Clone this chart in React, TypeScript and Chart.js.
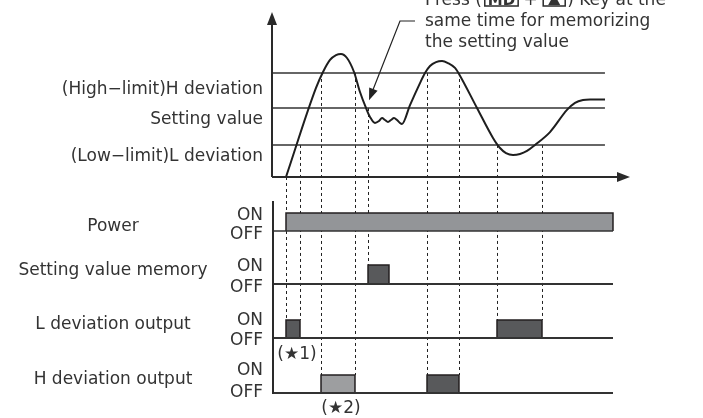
import React, { useEffect, useRef } from 'react';
import { Chart, registerables } from 'chart.js';

Chart.register(...registerables);

// ---------------- data ----------------
// time in arbitrary units (0 = origin, 100 = arrow tip of time axis)
const thresholdLabels = ['(High−limit)H deviation', 'Setting value', '(Low−limit)L deviation'];
const thresholdValues = [74.3, 49.3, 22.9];
const thresholdEnd = 93;

const curveTime = [
  3.91, 12.29, 14.25, 16.2, 17.88, 19.27, 20.95, 22.91, 24.58, 26.26, 27.37, 28.77,
  29.89, 30.73, 31.56, 32.4, 33.24, 34.08, 34.92, 35.75, 36.31, 38.55, 41.34, 42.74,
  44.13, 45.81, 47.49, 49.16, 51.12, 52.23, 57.26, 61.73, 63.69, 65.36, 67.32, 69.27,
  71.23, 73.46, 77.65, 82.4, 84.64, 86.87, 88.83, 93.02,
];
const curveValue = [
  0, 63.6, 75, 83.6, 87.1, 87.9, 85, 75, 60.7, 49.3, 42.9, 38.6,
  40, 42.1, 40.7, 39.3, 40.7, 42.1, 40.7, 38.6, 37.9, 51.4, 67.1, 74.3,
  79.3, 82.1, 82.9, 81.4, 77.9, 73.6, 49.3, 27.9, 20.7, 17.1, 15.7, 16.4,
  18.6, 22.9, 32.1, 47.9, 52.9, 55, 55.4, 55.4,
];

const rowLabels = ['Power', 'Setting value memory', 'L deviation output', 'H deviation output'];
const powerPulses = [[3.91, 95.25]];
const memoryPulses = [[26.82, 32.68]];
const lDeviationPulses = [[3.91, 7.82], [62.85, 75.42]];
const hDeviationPulses = [[13.69, 23.18], [43.3, 52.23]];
const signalEnd = 95.25;

const markerTimes = [3.91, 7.82, 13.69, 23.18, 26.82, 43.3, 52.23, 62.85, 75.42];
const markerLevels = [0, 22.9, 74.3, 74.3, 49.3, 74.3, 74.3, 22.9, 22.9];
const markerRows = [2, 2, 3, 3, 1, 3, 3, 2, 2];

const noteLines = ['same time for memorizing', 'the setting value'];

// ---------------- layout / style ----------------
const W = 703;
const H = 418;
const X_ORIGIN_PX = 272;
const X_UNIT_PX = 3.58;
const TEMP_ZERO_PX = 177;
const TEMP_UNIT_PX = 1.4;
const ROW_BASE_PX = [231, 284, 338, 393];
const ROW_HEIGHT_PX = [18, 19, 18, 18];
const ROW_FILLS = [['#939598'], ['#58595b'], ['#58595b', '#58595b'], ['#9d9ea0', '#58595b']];
const THRESH_LABEL_BASE = [94, 124, 161];
const ROW_LABEL_BASE = [231, 275, 329, 384];
const ON_BASE = [220, 271, 325, 375];
const OFF_BASE = [239, 292, 345, 397];
const FONT = '17px "DejaVu Sans"';
const TEXT = '#333333';
const LINE = '#2a2a2a';

const rows = [powerPulses, memoryPulses, lDeviationPulses, hDeviationPulses];
const rowAxis = (r: number) => 'ySig' + r;

function arrowHead(ctx: CanvasRenderingContext2D, x0: number, y0: number, x1: number, y1: number, len: number, half: number) {
  const dx = x1 - x0, dy = y1 - y0;
  const d = Math.hypot(dx, dy);
  const ux = dx / d, uy = dy / d;
  const bx = x1 - ux * len, by = y1 - uy * len;
  ctx.beginPath();
  ctx.moveTo(x1, y1);
  ctx.lineTo(bx - uy * half, by + ux * half);
  ctx.lineTo(bx + uy * half, by - ux * half);
  ctx.closePath();
  ctx.fill();
}

const overlay = {
  id: 'overlay',
  beforeDatasetsDraw(chart: any) {
    const ctx = chart.ctx as CanvasRenderingContext2D;
    const xs = chart.scales.x;
    const ys = chart.scales.y;
    ctx.save();
    ctx.strokeStyle = '#222';
    ctx.lineWidth = 1;
    ctx.setLineDash([3, 3]);
    markerTimes.forEach((t, i) => {
      const x = Math.round(xs.getPixelForValue(t)) + 0.5;
      const y1 = ys.getPixelForValue(markerLevels[i]);
      const y2 = chart.scales[rowAxis(markerRows[i])].getPixelForValue(1);
      ctx.beginPath();
      ctx.moveTo(x, y1);
      ctx.lineTo(x, y2);
      ctx.stroke();
    });
    ctx.restore();
  },
  afterDatasetsDraw(chart: any) {
    const ctx = chart.ctx as CanvasRenderingContext2D;
    const xs = chart.scales.x;
    const ys = chart.scales.y;
    ctx.save();
    // top axes
    const ox = xs.getPixelForValue(0);
    const oy = ys.getPixelForValue(0);
    const xTip = xs.getPixelForValue(100);
    ctx.strokeStyle = LINE;
    ctx.fillStyle = LINE;
    ctx.lineWidth = 2;
    ctx.beginPath();
    ctx.moveTo(ox, oy);
    ctx.lineTo(ox, 20);
    ctx.moveTo(ox, oy);
    ctx.lineTo(xTip - 8, oy);
    ctx.stroke();
    arrowHead(ctx, ox, oy, ox, 12, 13, 5);
    arrowHead(ctx, ox, oy, xTip, oy, 13, 5);
    // bottom axis
    ctx.beginPath();
    ctx.moveTo(ox + 1, 201);
    ctx.lineTo(ox + 1, chart.scales[rowAxis(3)].getPixelForValue(0) + 1);
    ctx.stroke();

    // texts
    ctx.font = FONT;
    ctx.fillStyle = TEXT;
    ctx.textBaseline = 'alphabetic';
    ctx.textAlign = 'right';
    thresholdLabels.forEach((s, i) => ctx.fillText(s, 263, THRESH_LABEL_BASE[i]));
    rowLabels.forEach((_, i) => {
      ctx.fillText('ON', 263, ON_BASE[i]);
      ctx.fillText('OFF', 263, OFF_BASE[i]);
    });
    ctx.textAlign = 'center';
    rowLabels.forEach((s, i) => ctx.fillText(s, 113, ROW_LABEL_BASE[i]));
    const l0 = lDeviationPulses[0];
    const h0 = hDeviationPulses[0];
    ctx.fillText('(★1)', (xs.getPixelForValue(l0[0]) + xs.getPixelForValue(l0[1])) / 2 + 4, 359);
    ctx.fillText('(★2)', (xs.getPixelForValue(h0[0]) + xs.getPixelForValue(h0[1])) / 2 + 3, 413);

    // annotation
    ctx.textAlign = 'left';
    let x = 425;
    const y0 = 5;
    ctx.fillText('Press (', x, y0);
    x += ctx.measureText('Press (').width + 3;
    ctx.font = 'bold 15px "DejaVu Sans"';
    const mdW = ctx.measureText('MD').width;
    ctx.fillText('MD', x + 3, y0);
    ctx.lineWidth = 1.5;
    ctx.strokeStyle = LINE;
    ctx.strokeRect(x, -14, mdW + 6, y0 + 15);
    x += mdW + 6;
    ctx.font = FONT;
    ctx.fillText(' + ', x, y0);
    x += ctx.measureText(' + ').width;
    ctx.strokeRect(x, -14, 22, y0 + 15);
    ctx.beginPath();
    ctx.moveTo(x + 11, -6);
    ctx.lineTo(x + 17, y0 + 0);
    ctx.lineTo(x + 5, y0 + 0);
    ctx.closePath();
    ctx.fill();
    x += 24;
    ctx.fillText(') Key at the', x, y0);
    ctx.fillText(noteLines[0], 425, 26);
    ctx.fillText(noteLines[1], 425, 47);

    // leader arrow
    const tipX = xs.getPixelForValue(markerTimes[4]) + 1;
    const tipY = ys.getPixelForValue(thresholdValues[1] + 5.5);
    ctx.strokeStyle = '#222';
    ctx.fillStyle = '#222';
    ctx.lineWidth = 1.2;
    ctx.beginPath();
    ctx.moveTo(415, 21);
    ctx.lineTo(400, 21);
    ctx.lineTo(tipX + 3, tipY - 8);
    ctx.stroke();
    arrowHead(ctx, 400, 21, tipX, tipY, 12, 4.5);
    ctx.restore();
  },
};

export default function App() {
  const ref = useRef<HTMLCanvasElement | null>(null);
  useEffect(() => {
    if (!ref.current) return;
    const datasets: any[] = [];
    thresholdValues.forEach((v) => {
      datasets.push({
        data: [{ x: 0, y: v }, { x: thresholdEnd, y: v }],
        borderColor: '#333',
        borderWidth: 1.6,
        yAxisID: 'y',
        order: 2,
      });
    });
    datasets.push({
      data: curveTime.map((t, i) => ({ x: t, y: curveValue[i] })),
      borderColor: '#1e1e1e',
      borderWidth: 2,
      cubicInterpolationMode: 'monotone',
      yAxisID: 'y',
      order: 0,
    });
    rows.forEach((pulses, r) => {
      datasets.push({
        data: [{ x: 0, y: 0 }, { x: signalEnd, y: 0 }],
        borderColor: '#333',
        borderWidth: r === 0 ? 1.3 : 2,
        yAxisID: rowAxis(r),
        order: 1,
      });
      pulses.forEach((p, k) => {
        datasets.push({
          data: [{ x: p[0], y: 0 }, { x: p[0], y: 1 }, { x: p[1], y: 1 }, { x: p[1], y: 0 }],
          borderColor: '#231f20',
          borderWidth: 1.5,
          backgroundColor: ROW_FILLS[r][k],
          fill: 'origin',
          yAxisID: rowAxis(r),
          order: 3,
        });
      });
    });
    const scales: any = {
      x: { type: 'linear', axis: 'x', display: false, min: -X_ORIGIN_PX / X_UNIT_PX, max: (W - X_ORIGIN_PX) / X_UNIT_PX },
      y: { type: 'linear', axis: 'y', display: false, min: (TEMP_ZERO_PX - H) / TEMP_UNIT_PX, max: TEMP_ZERO_PX / TEMP_UNIT_PX },
    };
    ROW_BASE_PX.forEach((b, r) => {
      const h = ROW_HEIGHT_PX[r];
      scales[rowAxis(r)] = { type: 'linear', axis: 'y', position: 'left', display: false, min: (b - H) / h, max: b / h };
    });
    const chart = new Chart(ref.current, {
      type: 'line',
      data: { datasets },
      options: {
        responsive: false,
        animation: false,
        devicePixelRatio: 1,
        layout: { padding: 0 },
        elements: { point: { radius: 0 }, line: { tension: 0 } },
        plugins: { legend: { display: false }, tooltip: { enabled: false } },
        scales,
      },
      plugins: [overlay],
    } as any);
    return () => chart.destroy();
  }, []);
  return (
    <div style={{ position: 'absolute', left: 0, top: 0, width: W, height: H, background: '#fff' }}>
      <canvas ref={ref} width={W} height={H} style={{ display: 'block', width: W, height: H }} />
    </div>
  );
}
